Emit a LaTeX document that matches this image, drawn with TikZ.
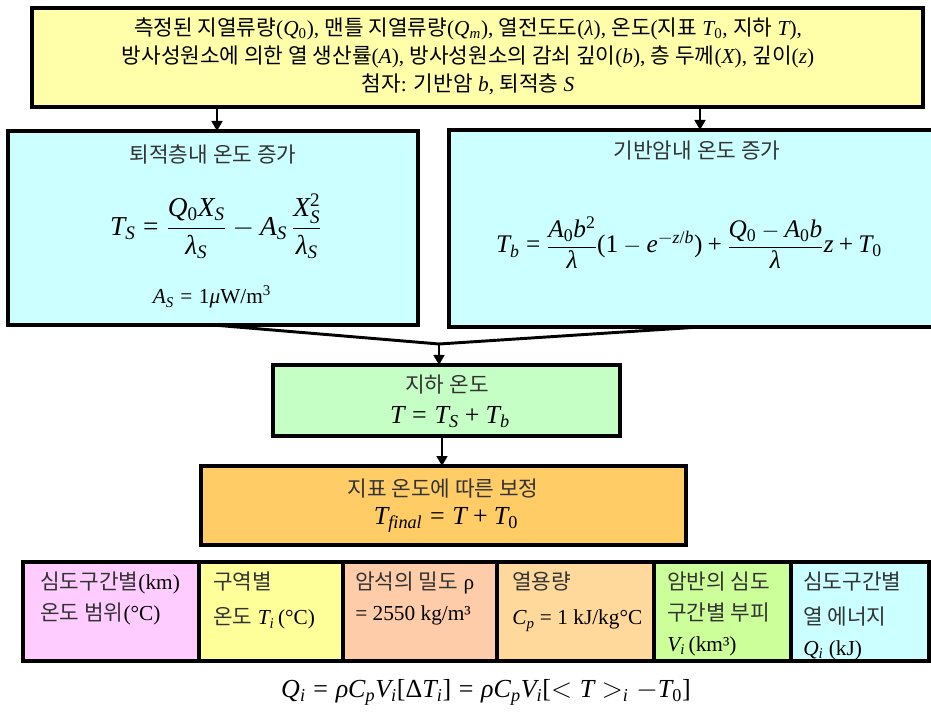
\documentclass[tikz,border=0pt]{standalone}
\usepackage{fontspec}
\setmainfont{Liberation Serif}
\newfontfamily\kr{Noto Sans CJK KR}
\newfontfamily\ltimes{Liberation Serif}[NFSSFamily=ltimes]
\DeclareSymbolFont{tletters}{TU}{ltimes}{m}{it}
\DeclareSymbolFont{tupright}{TU}{ltimes}{m}{n}
\DeclareMathAlphabet{\mathtit}{TU}{ltimes}{m}{it}
\AtBeginDocument{%
  \count255=`a
  \loop\Umathcode\count255=7 \symtletters \count255 \ifnum\count255<`z \advance\count255 1 \repeat
  \count255=`A
  \loop\Umathcode\count255=7 \symtletters \count255 \ifnum\count255<`Z \advance\count255 1 \repeat
  \count255=`0
  \loop\Umathcode\count255=7 \symtupright \count255 \ifnum\count255<`9 \advance\count255 1 \repeat
  \Umathcode`(=4 \symtupright `(
  \Umathcode`)=5 \symtupright `)
  \Umathcode`[=4 \symtupright `[
  \Umathcode`]=5 \symtupright `]
  \Umathcode`+=2 \symtupright `+
  \Umathcode`==3 \symtupright `=
  \Umathcode`/=0 \symtupright `/
  \Umathchardef\lambda=0 \symtletters "03BB
  \Umathchardef\rho=0 \symtletters "03C1
  \Umathchardef\mu=0 \symtletters "03BC
  \Umathchardef\Delta=0 \symtupright "0394
}
\usetikzlibrary{arrows.meta}
\definecolor{topy}{HTML}{FFFFAA}
\definecolor{cyanb}{HTML}{CCFFFF}
\definecolor{greenb}{HTML}{C6FFC6}
\definecolor{orangeb}{HTML}{FFCC66}
\definecolor{pinkc}{HTML}{FFCCFF}
\definecolor{yelc}{HTML}{FFFF99}
\definecolor{salc}{HTML}{FFCCAA}
\definecolor{orc}{HTML}{FFD99C}
\definecolor{grc}{HTML}{CCFF99}
\definecolor{cyc}{HTML}{CCFFFF}
\definecolor{txtg}{HTML}{333333}
\newcommand\pxu{0.75pt}
\tikzset{
  boxx/.style={draw=black, line width=2.5pt, inner sep=0pt, outer sep=0pt},
  conn/.style={line width=2.2pt, draw=black},
  arr/.style={conn, -{Triangle[length=7.5pt,width=8pt]}},
  ttl/.style={inner sep=0pt, font=\fontsize{16}{21}\selectfont\kr, text=txtg},
  eq/.style={inner sep=0pt, font=\fontsize{20.5}{24}\selectfont},
  eqs/.style={inner sep=0pt, font=\fontsize{19}{22}\selectfont},
  eqm/.style={inner sep=0pt, font=\fontsize{19.5}{22}\selectfont},
  celltxt/.style={inner sep=0pt, anchor=north west, align=left, font=\fontsize{16}{23}\selectfont},
}
\begin{document}
\begin{tikzpicture}[x=0.75pt,y=-0.75pt]
\useasboundingbox (0,0) rectangle (931,712);
\clip (0,0) rectangle (931,712);
% boxes
\node[boxx, fill=topy, minimum width=891*\pxu, minimum height=99*\pxu] (top) at (477.5,57.5) {};
\node[boxx, fill=cyanb, minimum width=410*\pxu, minimum height=194*\pxu] (left) at (213,228) {};
\node[boxx, fill=cyanb, minimum width=502*\pxu, minimum height=197*\pxu] (right) at (700,228.5) {};
\node[boxx, fill=greenb, minimum width=347*\pxu, minimum height=71*\pxu] (green) at (446.5,400.5) {};
\node[boxx, fill=orangeb, minimum width=485*\pxu, minimum height=79*\pxu] (orange) at (443.5,505.5) {};
% bottom cells
\node[boxx, fill=pinkc, minimum width=176*\pxu, minimum height=99*\pxu] (c1) at (111,611.5) {};
\node[boxx, fill=yelc, minimum width=144*\pxu, minimum height=99*\pxu] (c2) at (271,611.5) {};
\node[boxx, fill=salc, minimum width=154*\pxu, minimum height=99*\pxu] (c3) at (420,611.5) {};
\node[boxx, fill=orc, minimum width=157*\pxu, minimum height=99*\pxu] (c4) at (575.5,611.5) {};
\node[boxx, fill=grc, minimum width=137*\pxu, minimum height=99*\pxu] (c5) at (722.5,611.5) {};
\node[boxx, fill=cyc, minimum width=138*\pxu, minimum height=99*\pxu] (c6) at (860,611.5) {};
% top text
\node[inner sep=0pt, align=center, font=\fontsize{16}{21}\selectfont] (toptxt) at (468,56) {%
{\kr 측정된 지열류량}($Q_0$), {\kr 맨틀 지열류량}($Q_m$), {\kr 열전도도}($\lambda$), {\kr 온도}({\kr 지표} $T_0$, {\kr 지하} $T$),\\
{\kr 방사성원소에 의한 열 생산률}($A$), {\kr 방사성원소의 감쇠 깊이}($b$), {\kr 층 두께}($X$), {\kr 깊이}($z$)\\
{\kr 첨자}: {\kr 기반암} $b$, {\kr 퇴적층} $S$};
% left box
\node[ttl] (lt) at (213,155) {퇴적층내 온도 증가};
\node[eq] (leq) at (216,226) {$\displaystyle T_S=\frac{Q_0X_S}{\lambda_S}-A_S\,\frac{X_S^2}{\lambda_S}$};
\node[inner sep=0pt, font=\fontsize{16}{20}\selectfont] (las) at (212,297) {$A_S=1\mu\mathrm{W/m^3}$};
% right box
\node[ttl] (rt) at (697,151) {기반암내 온도 증가};
\node[eqs] (req) at (689,243) {$\displaystyle T_b=\frac{A_0b^2}{\lambda}(1-e^{-z/b})+\frac{Q_0-A_0b}{\lambda}z+T_0$};
% green
\node[ttl] (gt) at (447,385) {지하 온도};
\node[eqm] (geq) at (450,417) {$T=T_S+T_b$};
% orange
\node[ttl] (ot) at (443,488) {지표 온도에 따른 보정};
\node[eqm] (oeq) at (446,520) {$T_{\mathtit{final}}=T+T_0$};
% cell texts
\node[celltxt] (t1) at (40,572) {{\color{txtg}\kr 심도구간별}(km)\\{\color{txtg}\kr 온도 범위}(°C)};
\node[celltxt] (t2) at (213,572) {{\color{txtg}\kr 구역별}\\[3pt]{\color{txtg}\kr 온도} $T_i$\,(°C)};
\node[celltxt] (t3) at (355,572) {{\color{txtg}\kr 암석의 밀도} ρ\\= 2550 kg/m³};
\node[celltxt] (t4) at (512,572) {{\color{txtg}\kr 열용량}\\[3pt]$C_p$ = 1 kJ/kg°C};
\node[celltxt] (t5) at (667,572) {{\color{txtg}\kr 암반의 심도}\\{\color{txtg}\kr 구간별 부피}\\$V_i$\,(km³)};
\node[celltxt] (t6) at (803,572) {{\color{txtg}\kr 심도구간별}\\[3pt]{\color{txtg}\kr 열 에너지}\\$Q_i$ (kJ)};
% bottom formula
\node[inner sep=0pt, font=\fontsize{19.5}{24}\selectfont] (beq) at (486,692) {$Q_i=\rho C_pV_i[\Delta T_i]=\rho C_pV_i[<T>_i-T_0]$};
% connectors
\coordinate (j) at (439,344);
\draw[arr] (top.south -| 217,0) -- (left.north -| 217,0);
\draw[arr] (top.south -| right.north) -- (right.north);
\draw[conn] (left.south) -- (j);
\draw[conn] (right.south) -- (j);
\draw[arr] (j) -- (j |- green.north);
\draw[arr] (green.south -| 442,0) -- (orange.north -| 442,0);
\end{tikzpicture}
\end{document}
